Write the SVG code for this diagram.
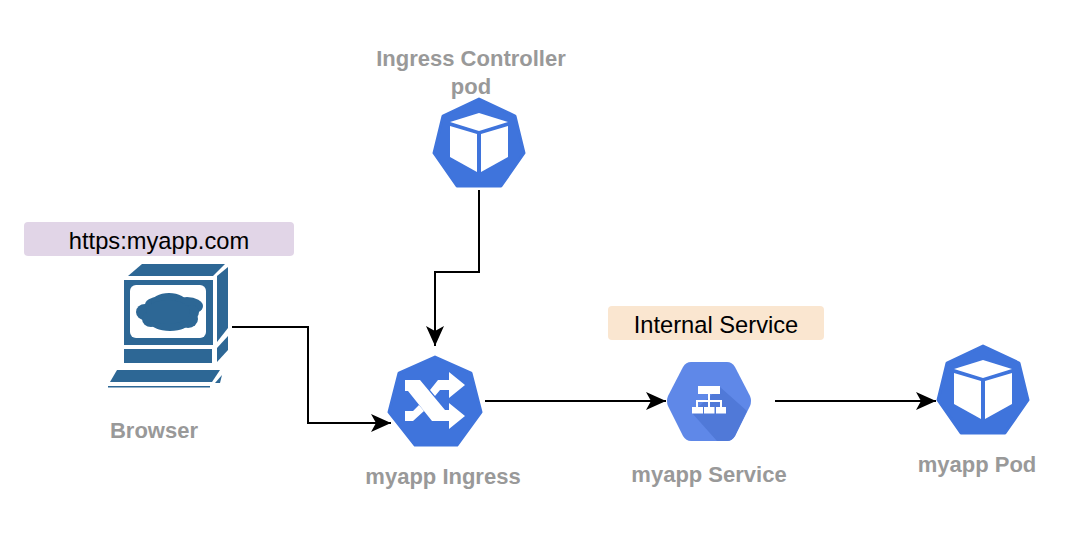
<svg xmlns="http://www.w3.org/2000/svg" width="1076" height="536" viewBox="0 0 1076 536">
<style>
.lbl{font-family:"Liberation Sans",Arial,sans-serif;font-weight:700;font-size:22px;fill:#999999;text-anchor:middle}
.tag{font-family:"Liberation Sans",Arial,sans-serif;font-size:23.7px;fill:#000;text-anchor:middle}
.k8s{fill:#3f74dc;stroke:#3f74dc;stroke-width:3;stroke-linejoin:round}
.w{fill:#fff}
.pc{fill:#2d6795}
.conn{fill:none;stroke:#000;stroke-width:2;marker-end:url(#arr)}
</style>
<defs>
<marker id="arr" markerUnits="userSpaceOnUse" markerWidth="22" markerHeight="20" refX="20" refY="9" orient="auto" overflow="visible">
<path d="M0 0L20 9L0 18L5 9Z" fill="#000"/>
</marker>
<g id="cube">
<path class="k8s" d="M0 2L36 19L45 56L22 89H-22L-45 56L-36 19Z"/>
<path class="w" d="M0 16L29 25L0 34L-29 25Z"/>
<path class="w" d="M-29 29L-2 37V75L-29 60Z"/>
<path class="w" d="M29 29L2 37V75L29 60Z"/>
</g>
</defs>
<rect width="1076" height="536" fill="#fff"/>
<g id="connectors">
<path class="conn" d="M232 327H308V423H391"/>
<path class="conn" d="M479 190V272H435V346"/>
<path class="conn" d="M485 401H666"/>
<path class="conn" d="M775 401H936"/>
</g>
<g id="ingress-controller">
<use href="#cube" x="479" y="97"/>
<text class="lbl" x="471" y="66">Ingress Controller</text>
<text class="lbl" x="471" y="94">pod</text>
</g>
<g id="browser-tag">
<rect x="24" y="222" width="270" height="34" rx="4" fill="#e1d5e7"/>
<text class="tag" x="159" y="249">https:myapp.com</text>
</g>
<g id="browser">
<path class="pc" d="M128 276L142 264H225L213 276Z"/>
<path class="pc" d="M217 276L228 267V328L217 342Z"/>
<path class="pc" d="M124 280H213V345H124Z"/>
<rect class="w" x="130" y="285" width="76" height="53" rx="6"/>
<ellipse class="pc" cx="145" cy="312" rx="9" ry="8"/>
<ellipse class="pc" cx="158" cy="305" rx="13" ry="8"/>
<ellipse class="pc" cx="169" cy="303" rx="18" ry="10"/>
<ellipse class="pc" cx="187" cy="306" rx="16" ry="9"/>
<ellipse class="pc" cx="192" cy="312" rx="7" ry="7"/>
<ellipse class="pc" cx="151" cy="319" rx="9" ry="8"/>
<ellipse class="pc" cx="170" cy="322" rx="20" ry="9"/>
<ellipse class="pc" cx="188" cy="319" rx="10" ry="9"/>
<ellipse class="pc" cx="168" cy="312" rx="22" ry="12"/>
<path class="pc" d="M124 349H212V363H124Z"/>
<path class="pc" d="M217 348L228 336V350L217 362Z"/>
<path class="pc" d="M117 370H220L212 382H110Z"/>
<path class="pc" d="M108 386H210V387.500H108Z"/>
<path class="pc" d="M215 383L222 375L220 383Z"/>
<text class="lbl" x="154" y="438">Browser</text>
</g>
<g id="ingress">
<path class="k8s" d="M435 357L471 373L481 412L457 445H415L389 412L399 373Z"/>
<path class="w" d="M405 380H420L445 410H449V403L465 416L449 429V421H432L408 391H405Z"/>
<path class="w" d="M449 372L465 385L449 398V390H440L435 396L430 390L438 380H449Z"/>
<path class="w" d="M405 411H413L419 405L424 411L413 421H405Z"/>
<text class="lbl" x="443" y="484">myapp Ingress</text>
</g>
<g id="service-tag">
<rect x="608" y="306" width="216" height="34" rx="4" fill="#fae6d0"/>
<text class="tag" x="716" y="333">Internal Service</text>
</g>
<g id="service">
<path d="M668 396L683 367Q686 362 691 362H727Q732 362 735 367L750 396Q752 401 750 406L735 436Q732 441 727 441H691Q686 441 683 436L668 406Q666 401 668 396Z" fill="#5f88e8"/>
<path d="M720 387L747 411L735 436Q732 441 727 441H717L692 413Z" fill="#5079d8"/>
<rect class="w" x="698" y="386" width="22" height="8"/>
<rect class="w" x="692" y="407" width="11" height="6.500"/>
<rect class="w" x="704" y="407" width="10.500" height="6.500"/>
<rect class="w" x="716" y="407" width="10" height="6.500"/>
<path d="M709 394V407M697 407V401H721V407" fill="none" stroke="#fff" stroke-width="2"/>
<text class="lbl" x="709" y="482">myapp Service</text>
</g>
<g id="pod">
<use href="#cube" x="983" y="344"/>
<text class="lbl" x="977" y="472">myapp Pod</text>
</g>
</svg>
